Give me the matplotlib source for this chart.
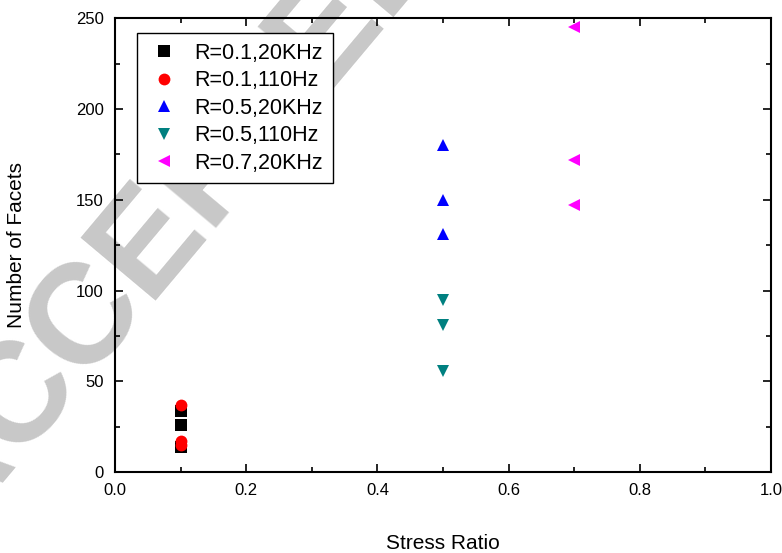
"""Number of facets vs stress ratio, scatter by test condition."""

import matplotlib
matplotlib.use("Agg")
import matplotlib.pyplot as plt
from matplotlib.ticker import MultipleLocator

plt.rcParams["font.family"] = ["Liberation Sans", "DejaVu Sans"]

# data
r01_20k = [34, 26, 14]
r01_110 = [37, 17, 15]
r05_20k = [180, 150, 131]
r05_110 = [95, 81, 56]
r07_20k = [245, 172, 147]

series = [
    ("R=0.1,20KHz", 0.1, r01_20k, "s", "black", 8),
    ("R=0.1,110Hz", 0.1, r01_110, "o", "red", 8.5),
    ("R=0.5,20KHz", 0.5, r05_20k, "^", "blue", 9),
    ("R=0.5,110Hz", 0.5, r05_110, "v", "#008080", 9),
    ("R=0.7,20KHz", 0.7, r07_20k, "<", "magenta", 9),
]

fig = plt.figure(figsize=(7.82, 5.53), dpi=100)
ax = fig.add_axes([0.147, 0.146, 0.839, 0.821])
ax.patch.set_alpha(0)

# faint watermark behind everything
fig.text(-0.06, 0.02, "ACCEPTED MANUSCRIPT", fontsize=102, color="#c8c8c8",
         rotation=50, ha="left", va="baseline", rotation_mode="anchor",
         fontweight="bold", zorder=-1)

for label, x, ys, marker, color, ms in series:
    ax.plot([x] * len(ys), ys, linestyle="none", marker=marker, color=color,
            markersize=ms, markeredgewidth=0, label=label, zorder=3)

ax.set_xlim(0, 1.0)
ax.set_ylim(0, 250)
ax.xaxis.set_major_locator(MultipleLocator(0.2))
ax.xaxis.set_minor_locator(MultipleLocator(0.1))
ax.yaxis.set_major_locator(MultipleLocator(50))
ax.yaxis.set_minor_locator(MultipleLocator(25))
ax.tick_params(which="both", direction="in", top=True, right=True,
               labelsize=12, width=1.2, pad=8)
ax.tick_params(which="major", length=6)
ax.tick_params(which="minor", length=3.5)
for sp in ax.spines.values():
    sp.set_linewidth(1.5)

ax.set_xlabel("Stress Ratio", fontsize=15, labelpad=26)
ax.set_ylabel("Number of Facets", fontsize=15, labelpad=36)

leg = ax.legend(loc="upper left", bbox_to_anchor=(0.034, 0.967), fontsize=15.5,
                frameon=True, fancybox=False, edgecolor="black",
                framealpha=1, handletextpad=0.6, labelspacing=0.3,
                borderpad=0.45, handlelength=1.6, borderaxespad=0)
leg.get_frame().set_linewidth(1.0)

fig.savefig("out.png", dpi=100)
